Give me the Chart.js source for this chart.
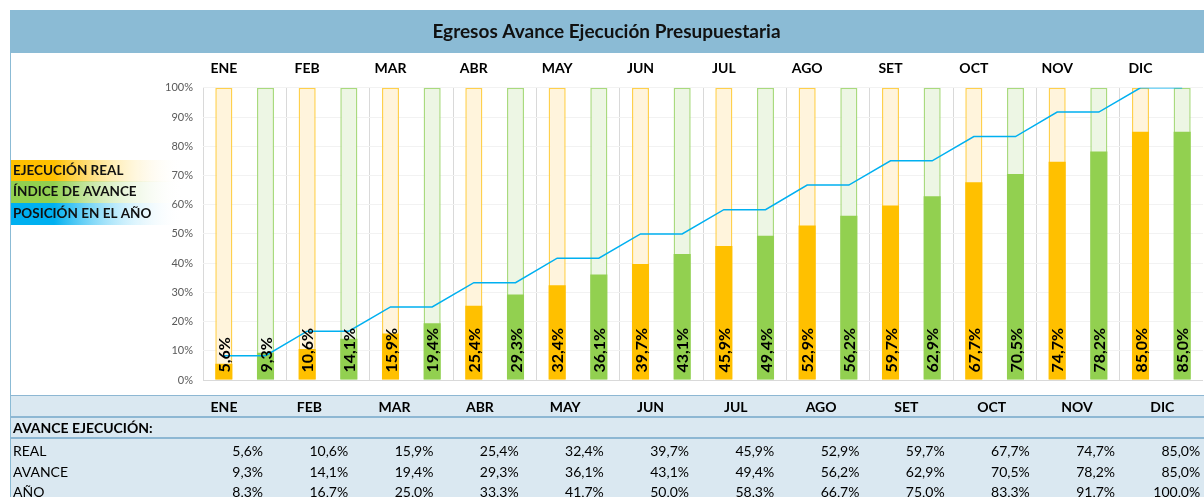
<!DOCTYPE html>
<html>
<head>
<meta charset="utf-8">
<script src="https://cdn.jsdelivr.net/npm/chart.js@4/dist/chart.umd.min.js"></script>
<style>
  html, body { margin: 0; padding: 0; background: #fff; }
  #wrap { position: relative; width: 1204px; height: 497px; }
</style>
</head>
<body>
<div id="wrap"><canvas id="c" width="1204" height="497"></canvas></div>
<script>
const MONTHS = ['ENE', 'FEB', 'MAR', 'ABR', 'MAY', 'JUN', 'JUL', 'AGO', 'SET', 'OCT', 'NOV', 'DIC']
const REAL = [5.6, 10.6, 15.9, 25.4, 32.4, 39.7, 45.9, 52.9, 59.7, 67.7, 74.7, 85.0]
const AVANCE = [9.3, 14.1, 19.4, 29.3, 36.1, 43.1, 49.4, 56.2, 62.9, 70.5, 78.2, 85.0]
const ANIO = [8.3, 16.7, 25.0, 33.3, 41.7, 50.0, 58.3, 66.7, 75.0, 83.3, 91.7, 100.0]
const FULL = 100

const FONT = 'Lato, "Open Sans", sans-serif'
const ORANGE = '#ffc000'
const GREEN = '#92d050'
const BLUE = '#00b0f0'
const BAND = '#8bbbd5'
const TABLE_BG = '#dae8f1'
const TABLE_LINE = '#8db7d3'

// two slots per month: real bar, then avance bar
const slots = MONTHS.flatMap(m => [m, m + '_av'])
const realSlots = REAL.flatMap(v => [v, null])
const avSlots = AVANCE.flatMap(v => [null, v])
const yearSlots = ANIO.flatMap(v => [v, v])
const fullSlots = slots.map(() => FULL)

const pct = v => v.toFixed(1).replace('.', ',') + '%'

const frame = {
  id: 'frame',
  beforeDraw(chart) {
    const c = chart.ctx
    c.save()
    c.fillStyle = BAND
    c.fillRect(10, 10, 1194, 43)
    c.fillStyle = TABLE_BG
    c.fillRect(10, 395, 1194, 102)
    c.fillStyle = BAND
    c.fillRect(10, 53, 1, 444)
    c.restore()
  },
  afterDraw(chart) {
    const c = chart.ctx
    c.save()
    // legend panel
    const legend = [
      ['EJECUCIÓN REAL', ORANGE, 160],
      ['ÍNDICE DE AVANCE', GREEN, 181],
      ['POSICIÓN EN EL AÑO', BLUE, 203],
    ]
    legend.forEach(([txt, col, y]) => {
      const g = c.createLinearGradient(11, 0, 182, 0)
      g.addColorStop(0, col)
      g.addColorStop(0.25, col)
      g.addColorStop(1, 'rgba(255,255,255,0)')
      c.fillStyle = g
      c.fillRect(11, y, 171, 22)
      c.fillStyle = '#111'
      c.font = 'bold 13.5px ' + FONT
      c.textBaseline = 'middle'
      c.textAlign = 'left'
      c.fillText(txt, 13, y + 11)
    })

    // table
    c.fillStyle = TABLE_LINE
    c.fillRect(10, 395, 1194, 1)
    c.fillRect(10, 416, 1194, 2)
    c.fillRect(10, 437, 1194, 2)
    c.fillStyle = '#000'
    c.font = 'bold 14px ' + FONT
    c.textAlign = 'center'
    MONTHS.forEach((m, i) => c.fillText(m, 224 + 85.3 * i, 407))
    c.textAlign = 'left'
    c.fillText('AVANCE EJECUCIÓN:', 13, 428)
    c.font = '14px ' + FONT
    const rows = [['REAL', REAL, 451], ['AVANCE', AVANCE, 472], ['AÑO', ANIO, 492]]
    rows.forEach(([name, vals, y]) => {
      c.textAlign = 'left'
      c.fillText(name, 13, y)
      c.textAlign = 'right'
      vals.forEach((v, i) => c.fillText(pct(v), 263 + 85.2 * i, y))
    })
    c.restore()
  },
}

const barLabels = {
  id: 'barLabels',
  afterDatasetsDraw(chart) {
    const c = chart.ctx
    c.save()
    c.fillStyle = '#000'
    c.font = 'bold 16px ' + FONT
    c.textAlign = 'left'
    c.textBaseline = 'middle'
    ;[1, 2].forEach(di => {
      const ds = chart.data.datasets[di]
      chart.getDatasetMeta(di).data.forEach((el, i) => {
        const v = ds.data[i]
        if (v == null) return
        c.save()
        c.translate(el.x, el.base - 7)
        c.rotate(-Math.PI / 2)
        c.fillText(pct(v), 0, 1)
        c.restore()
      })
    })
    c.restore()
  },
}

new Chart(document.getElementById('c'), {
  type: 'bar',
  data: {
    labels: slots,
    datasets: [
      {
        type: 'line',
        data: yearSlots,
        borderColor: BLUE,
        borderWidth: 1.5,
        pointRadius: 0,
        tension: 0,
        order: 0,
      },
      {
        data: realSlots,
        backgroundColor: ORANGE,
        grouped: false,
        barPercentage: 0.41,
        categoryPercentage: 1,
        order: 1,
      },
      {
        data: avSlots,
        backgroundColor: GREEN,
        grouped: false,
        barPercentage: 0.41,
        categoryPercentage: 1,
        order: 1,
      },
      {
        data: fullSlots,
        backgroundColor: slots.map((_, i) => i % 2 === 0 ? '#fff4dc' : '#edf6e4'),
        borderColor: slots.map((_, i) => i % 2 === 0 ? '#ffd04d' : '#a9da7e'),
        borderWidth: 1.5,
        borderSkipped: false,
        grouped: false,
        barPercentage: 0.41,
        categoryPercentage: 1,
        order: 2,
      },
    ],
  },
  options: {
    responsive: false,
    animation: false,
    layout: { padding: { left: 10, right: 1, top: 0, bottom: 117 } },
    plugins: {
      legend: { display: false },
      tooltip: { enabled: false },
      title: {
        display: true,
        text: 'Egresos Avance Ejecución Presupuestaria',
        color: '#111',
        font: { family: FONT, size: 19, weight: 'bold' },
        padding: { top: 20, bottom: 11 },
      },
    },
    scales: {
      x: {
        position: 'top',
        afterFit: s => { s.height = 34 },
        border: { display: false },
        grid: {
          offset: true,
          drawTicks: false,
          color: ctx => ctx.index % 2 === 0 ? '#d9d9d9' : 'transparent',
        },
        ticks: {
          autoSkip: false,
          maxRotation: 0,
          padding: 11,
          color: '#000',
          font: { family: FONT, size: 14, weight: 'bold' },
          callback: (v, i) => i % 2 === 0 ? MONTHS[i / 2] : '',
        },
      },
      y: {
        min: 0,
        max: 100,
        afterFit: s => { s.width = 193 },
        border: { display: false },
        grid: {
          drawTicks: false,
          color: ctx => ctx.tick && ctx.tick.value === 0 ? '#d9d9d9' : '#f2f2f2',
        },
        ticks: {
          stepSize: 10,
          padding: 10,
          color: '#595959',
          font: { family: FONT, size: 11 },
          callback: v => v + '%',
        },
      },
    },
  },
  plugins: [frame, barLabels],
})
</script>
</body>
</html>
